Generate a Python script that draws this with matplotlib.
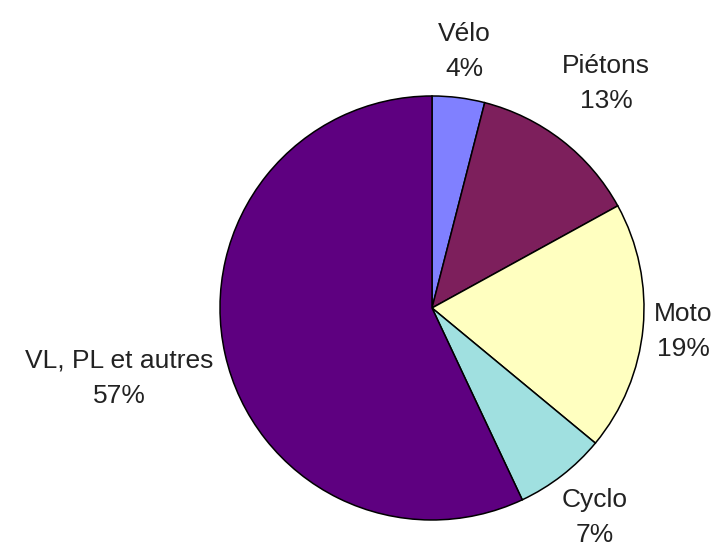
import numpy as np
import matplotlib
matplotlib.use("Agg")
import matplotlib.pyplot as plt

plt.rcParams['font.family'] = ['Liberation Sans', 'DejaVu Sans']

labels = ["Vélo", "Piétons", "Moto", "Cyclo", "VL, PL et autres"]
values = [4, 13, 19, 7, 57]
colors = ["#8080FF", "#7D1F5C", "#FFFFC0", "#A0E0E0", "#5E0080"]
label_dist = [1.22, 1.34, 1.19, 1.25, 1.51]

fig = plt.figure(figsize=(7.15, 5.51), dpi=100)
ax = fig.add_axes([0.3077, 0.0563, 0.593, 0.7695])

wedges, _ = ax.pie(values, colors=colors, startangle=90, counterclock=False,
                   wedgeprops=dict(edgecolor="black", linewidth=1.1))

for w, lab, v, d in zip(wedges, labels, values, label_dist):
    ang = np.deg2rad((w.theta1 + w.theta2) / 2)
    ax.text(d * np.cos(ang), d * np.sin(ang), f"{lab}\n{v}%",
            ha="center", va="center", fontsize=19, linespacing=1.6,
            color="#222222")

ax.set_xlim(-1, 1)
ax.set_ylim(-1, 1)
ax.set_aspect("equal")
ax.axis("off")

fig.savefig("out.png", dpi=100)
